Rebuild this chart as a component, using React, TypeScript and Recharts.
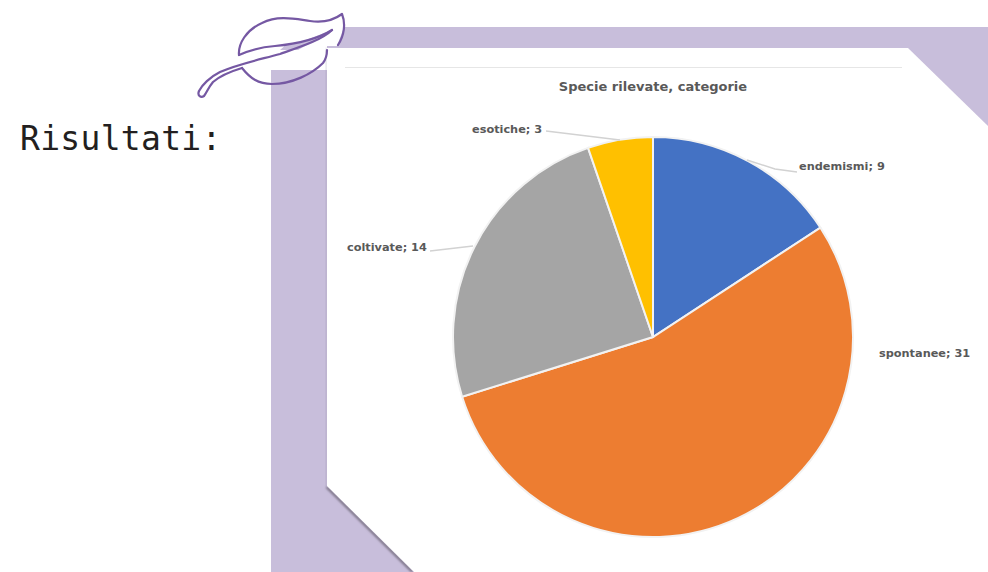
import { Cell, Pie, PieChart } from "recharts";

const categories = ["endemismi", "spontanee", "coltivate", "esotiche"];
const counts = [9, 31, 14, 3];
const sliceColors = ["#4472c4", "#ed7d31", "#a5a5a5", "#ffc000"];

const chartTitle = "Specie rilevate, categorie";
const headingText = "Risultati:";

const data = categories.map((name, i) => ({ name, value: counts[i] }));

// where each label text sits, and its leader line (none for spontanee)
const labelLayout = [
  { x: 799, y: 170, line: "747,160 775,169 797,172" },
  { x: 879, y: 357, line: "" },
  { x: 347, y: 251, line: "430,251 473,246" },
  { x: 472, y: 133, line: "546,131 620,140" },
];

const LAVENDER = "#c8bedb";
const LEAF = "#7558a3";
const PANEL = "327,48 908,48 988,126 988,572 414,572 327,486";

function renderLabel(props: any) {
  const pos = labelLayout[props.index];
  return (
    <g>
      {pos.line && <polyline points={pos.line} fill="none" stroke="#d2d2d2" strokeWidth={1.4} />}
      <text
        x={pos.x}
        y={pos.y}
        fontFamily="'DejaVu Sans', sans-serif"
        fontWeight={700}
        fontSize={11.3}
        fill="#595959"
      >
        {`${props.name}; ${props.value}`}
      </text>
    </g>
  );
}

function Backdrop() {
  return (
    <svg width={988} height={572} style={{ position: "absolute", left: 0, top: 0 }}>
      <defs>
        <filter id="panelShadow" x="-5%" y="-5%" width="110%" height="110%">
          <feGaussianBlur stdDeviation="1.2" />
        </filter>
      </defs>
      <polygon
        points="344,27 988,27 988,572 271,572 271,70 327,70 327,46 337,46"
        fill={LAVENDER}
      />
      <polygon points="280,50 287,44 298,43 332,30 328,33 298,50" fill={LAVENDER} />
      {/* soft shadow under the lower diagonal, faint along the left edge */}
      <polygon
        points="327,486 414,572 411,572 326,488"
        fill="#6f6878"
        filter="url(#panelShadow)"
      />
      <polygon
        points="326,48 327,48 327,486 326,486"
        fill="#8f88a0"
        opacity={0.5}
        filter="url(#panelShadow)"
      />
      <polygon points={PANEL} fill="#ffffff" />
      <line x1={345} y1={67.5} x2={902} y2={67.5} stroke="#e6e6e6" strokeWidth={1} />
    </svg>
  );
}

function Leaf() {
  return (
    <svg
      width={988}
      height={572}
      style={{ position: "absolute", left: 0, top: 0, pointerEvents: "none" }}
    >
      <g fill="none" stroke={LEAF} strokeWidth={2.2} strokeLinecap="round" strokeLinejoin="round">
        {/* upper lobe and midrib */}
        <path d="M239,55 C238,44 246,30 262,23 C278,15 295,19 310,21 C324,23 334,20 342,14 C346,24 344,36 338,45" />
        <path d="M239,55 C250,50 262,47 275,46 C296,44 316,40 332,30" />
        {/* stem */}
        <path d="M332,30 C322,40 300,47 280,54 C258,60 238,64 220,72 C210,77 202,85 199,91 C197,96 201,98 204,96 C207,92 208,88 213,82 C221,75 232,71 242,68" />
        {/* lower lobe */}
        <path d="M242,68 C250,78 258,84 272,84 C292,84 312,74 323,63 C326,59 327,55 327,50" />
      </g>
    </svg>
  );
}

export default function App() {
  return (
    <div style={{ position: "absolute", left: 0, top: 0, width: 988, height: 572, overflow: "hidden" }}>
      <Backdrop />
      <div
        style={{
          position: "absolute",
          left: 20,
          top: 119,
          fontFamily: "'DejaVu Sans Mono', monospace",
          fontSize: 33,
          letterSpacing: 0.3,
          lineHeight: "40px",
          color: "#231f20",
        }}
      >
        {headingText}
      </div>
      <div style={{ position: "absolute", left: 0, top: 0 }}>
        <PieChart width={988} height={572} margin={{ top: 0, right: 0, bottom: 0, left: 0 }}>
          <text
            x={653}
            y={91}
            textAnchor="middle"
            fontFamily="'DejaVu Sans', sans-serif"
            fontWeight={700}
            fontSize={13}
            fill="#595959"
          >
            {chartTitle}
          </text>
          <Pie
            data={data}
            dataKey="value"
            nameKey="name"
            cx={653}
            cy={337}
            outerRadius={200}
            startAngle={90}
            endAngle={-270}
            stroke="#f2f2f2"
            strokeWidth={2}
            label={renderLabel}
            labelLine={false}
            isAnimationActive={false}
          >
            {data.map((d, i) => (
              <Cell key={d.name} fill={sliceColors[i]} />
            ))}
          </Pie>
        </PieChart>
      </div>
      <Leaf />
    </div>
  );
}
